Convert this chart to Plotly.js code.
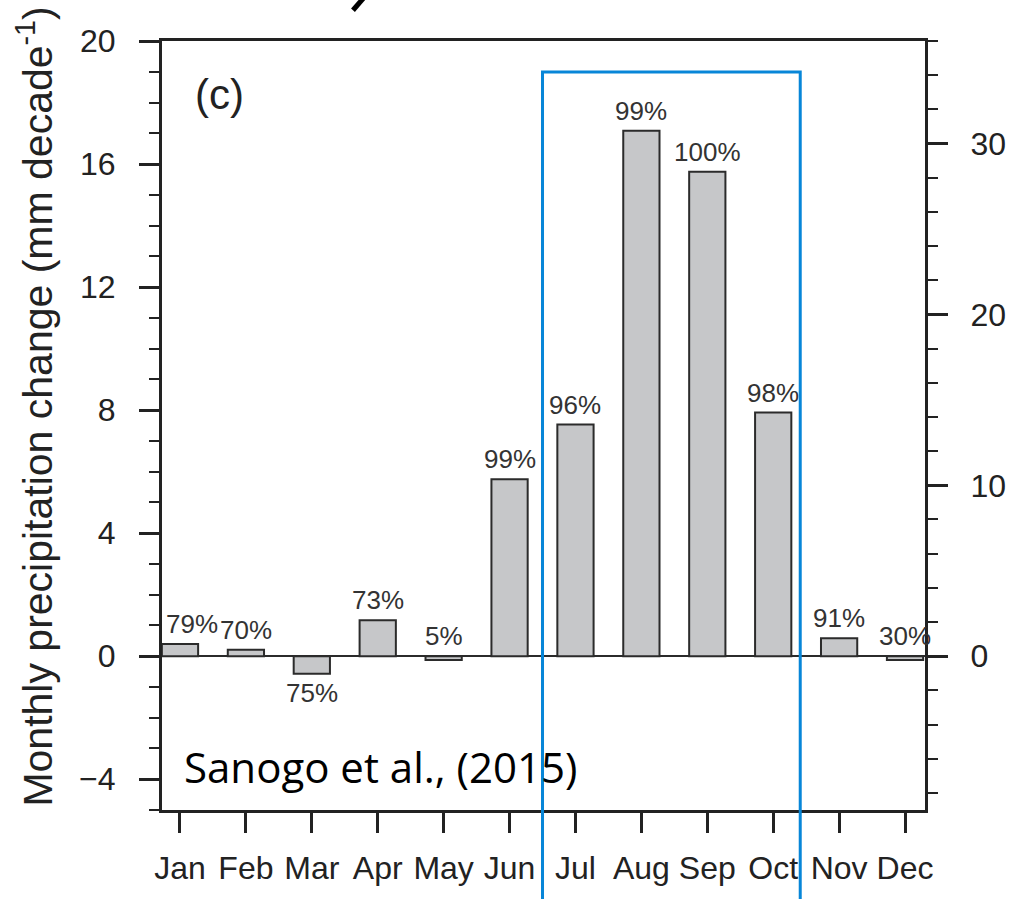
<!DOCTYPE html>
<html>
<head>
<meta charset="utf-8">
<script src="https://cdn.plot.ly/plotly-3.0.1.min.js"></script>
<style>
  html, body { margin: 0; padding: 0; background: #ffffff; }
  #chart { width: 1018px; height: 899px; }
</style>
</head>
<body>
<div id="chart"></div>
<script>
// ---- data ----
const months = ["Jan", "Feb", "Mar", "Apr", "May", "Jun", "Jul", "Aug", "Sep", "Oct", "Nov", "Dec"];
const precipChange = [0.40, 0.21, -0.57, 1.17, -0.12, 5.75, 7.53, 17.08, 15.75, 7.92, 0.58, -0.12];
const significance = ["79%", "70%", "75%", "73%", "5%", "99%", "96%", "99%", "100%", "98%", "91%", "30%"];
const leftTicks = [-4, 0, 4, 8, 12, 16, 20];
const rightTicks = [0, 10, 20, 30];
const yTitle = "Monthly precipitation change (mm decade<sup>-1</sup>)";
const panelLabel = "(c)";
const sourceNote = "Sanogo et al., (2015)";
const highlightFrom = "Jul";
const highlightTo = "Oct";

const FONT = "Arial, 'Liberation Sans', Helvetica, sans-serif";
const AX = "#222222";
const xRange = [-0.273, 11.303];
const toPaperX = v => (v - xRange[0]) / (xRange[1] - xRange[0]);

const bars = {
  type: "bar",
  x: months,
  y: precipChange,
  width: 0.55,
  marker: { color: "#c6c7c9", line: { color: "#2b2b2b", width: 2 } },
  hoverinfo: "x+y",
  showlegend: false
};

// invisible trace so the secondary (right) axis is drawn
const rightAxisTrace = {
  type: "scatter", mode: "markers", x: [months[0]], y: [0],
  yaxis: "y2", marker: { opacity: 0 }, hoverinfo: "skip", showlegend: false
};

const annotations = significance.map((t, i) => {
  const v = precipChange[i];
  const below = v < -0.3;
  return {
    x: months[i], y: below ? v : Math.max(v, 0),
    xref: "x", yref: "y",
    text: t, showarrow: false,
    yanchor: below ? "top" : "bottom",
    yshift: below ? -2 : 3,
    xshift: i === 0 ? 12 : 0,
    font: { family: FONT, size: 26, color: "#333333" }
  };
});

annotations.push({
  xref: "paper", yref: "paper", x: -0.166, y: 0.525,
  xanchor: "center", yanchor: "middle", textangle: -90,
  text: yTitle, showarrow: false,
  font: { family: FONT, size: 41, color: AX }
});
annotations.push({
  xref: "paper", yref: "y", x: 0.04, y: 18.25, xanchor: "left", yanchor: "middle",
  text: panelLabel, showarrow: false,
  font: { family: FONT, size: 42, color: "#222222" }
});
annotations.push({
  xref: "paper", yref: "y", x: 0.026, y: -3.6, xanchor: "left", yanchor: "middle",
  text: sourceNote, showarrow: false,
  font: { family: "Open Sans, Noto Sans, sans-serif", size: 42, color: "#000000" }
});

const boxX0 = toPaperX(months.indexOf(highlightFrom) - 0.5);
const boxX1 = toPaperX(months.indexOf(highlightTo) + 0.41);

const shapes = [
  {
    type: "path", xref: "paper", yref: "paper",
    path: `M ${boxX0},-0.12 L ${boxX0},0.9597 L ${boxX1},0.9597 L ${boxX1},-0.12`,
    line: { color: "#0786d8", width: 3 }, layer: "above"
  },
  {
    type: "line", xref: "paper", yref: "paper",
    x0: 0.2503, y0: 1.040, x1: 0.266, y1: 1.058,
    line: { color: "#000000", width: 5 }, layer: "above"
  }
];

const layout = {
  width: 1018, height: 899,
  margin: { l: 162, r: 93, t: 41, b: 89, pad: 0 },
  paper_bgcolor: "#ffffff", plot_bgcolor: "#ffffff",
  font: { family: FONT, color: AX },
  bargap: 0.45,
  xaxis: {
    type: "category", range: xRange,
    showline: true, linecolor: AX, linewidth: 3, mirror: true,
    ticks: "outside", ticklen: 20, tickwidth: 3, tickcolor: AX,
    ticklabelstandoff: 8,
    tickfont: { family: FONT, size: 32, color: AX },
    showgrid: false, zeroline: false, fixedrange: true
  },
  yaxis: {
    range: [-5, 20], tickvals: leftTicks,
    showline: true, linecolor: AX, linewidth: 3,
    ticks: "outside", ticklen: 20, tickwidth: 3, tickcolor: AX,
    ticklabelstandoff: 17,
    minor: { dtick: 1, tick0: 0, ticklen: 10, tickwidth: 2, tickcolor: AX, ticks: "outside", showgrid: false },
    tickfont: { family: FONT, size: 32, color: AX },
    showgrid: false,
    zeroline: true, zerolinecolor: "#2b2b2b", zerolinewidth: 1.5,
    fixedrange: true
  },
  yaxis2: {
    overlaying: "y", side: "right", range: [-9, 36], tickvals: rightTicks,
    showline: true, linecolor: AX, linewidth: 3,
    ticks: "outside", ticklen: 20, tickwidth: 3, tickcolor: AX,
    ticklabelstandoff: 16,
    minor: { dtick: 2, tick0: 0, ticklen: 10, tickwidth: 2, tickcolor: AX, ticks: "outside", showgrid: false },
    tickfont: { family: FONT, size: 32, color: AX },
    showgrid: false, zeroline: false, fixedrange: true
  },
  annotations: annotations,
  shapes: shapes,
  showlegend: false
};

Plotly.newPlot("chart", [bars, rightAxisTrace], layout, { displayModeBar: false, staticPlot: true });
</script>
</body>
</html>
